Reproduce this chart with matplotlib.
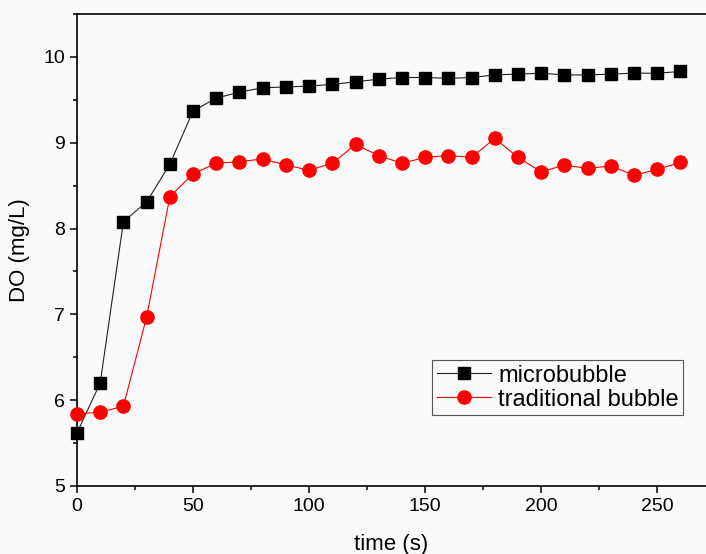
import matplotlib
matplotlib.use('Agg')
from matplotlib import pyplot as plt
from matplotlib.ticker import MultipleLocator

plt.rcParams['font.family'] = ['Liberation Sans', 'DejaVu Sans']

# 時間 (s)
time_s = [0, 10, 20, 30, 40, 50, 60, 70, 80, 90, 100, 110, 120, 130,
          140, 150, 160, 170, 180, 190, 200, 210, 220, 230, 240, 250, 260]

# DO (mg/L)
do_micro = [5.62, 6.20, 8.08, 8.31, 8.75, 9.37, 9.52, 9.59, 9.64, 9.65,
            9.66, 9.68, 9.71, 9.74, 9.76, 9.76, 9.75, 9.76, 9.79, 9.80,
            9.81, 9.79, 9.79, 9.80, 9.81, 9.81, 9.83]
do_trad = [5.84, 5.86, 5.93, 6.97, 8.37, 8.64, 8.76, 8.78, 8.81, 8.74,
           8.68, 8.76, 8.98, 8.85, 8.76, 8.83, 8.85, 8.83, 9.05, 8.83,
           8.66, 8.74, 8.70, 8.73, 8.62, 8.69, 8.77]

W, H = 706, 554
fig = plt.figure(figsize=(W / 100, H / 100), dpi=100, facecolor='#fafafa')
ax = fig.add_axes([77 / W, (H - 486) / H, (W - 77) / W, (486 - 14) / H])
ax.set_facecolor('#fafafa')

ax.plot(time_s, do_micro, color='#222222', lw=0.8, marker='s', ms=8.5,
        mfc='black', mec='black', label='microbubble', clip_on=False, zorder=3)
ax.plot(time_s, do_trad, color='red', lw=0.8, marker='o', ms=9.5,
        mfc='red', mec='red', label='traditional bubble', clip_on=False, zorder=3)

ax.set_xlim(0, 271)
ax.set_ylim(5, 10.5)
ax.xaxis.set_major_locator(MultipleLocator(50))
ax.xaxis.set_minor_locator(MultipleLocator(25))
ax.yaxis.set_major_locator(MultipleLocator(1))
ax.yaxis.set_minor_locator(MultipleLocator(0.5))
ax.tick_params(which='both', direction='out', top=False, right=False,
               width=1.1, labelsize=14)
ax.tick_params(which='major', length=5)
ax.tick_params(which='minor', length=3)
ax.spines['right'].set_visible(False)
for s in ['left', 'bottom', 'top']:
    ax.spines[s].set_linewidth(1.2)

ax.set_xlabel('time (s)', fontsize=16, labelpad=14)
ax.set_ylabel('DO (mg/L)', fontsize=16, labelpad=10)

leg = ax.legend(loc='upper left', bbox_to_anchor=(432 / W, 1 - 360 / H),
                bbox_transform=fig.transFigure, borderaxespad=0,
                fontsize=17, fancybox=False, framealpha=1,
                edgecolor='#555555', handlelength=2.3, handletextpad=0.3,
                borderpad=0.2, labelspacing=0.08)
leg.get_frame().set_facecolor('#fafafa')
leg.get_frame().set_linewidth(0.8)

fig.savefig('out.png', dpi=100, facecolor=fig.get_facecolor())
